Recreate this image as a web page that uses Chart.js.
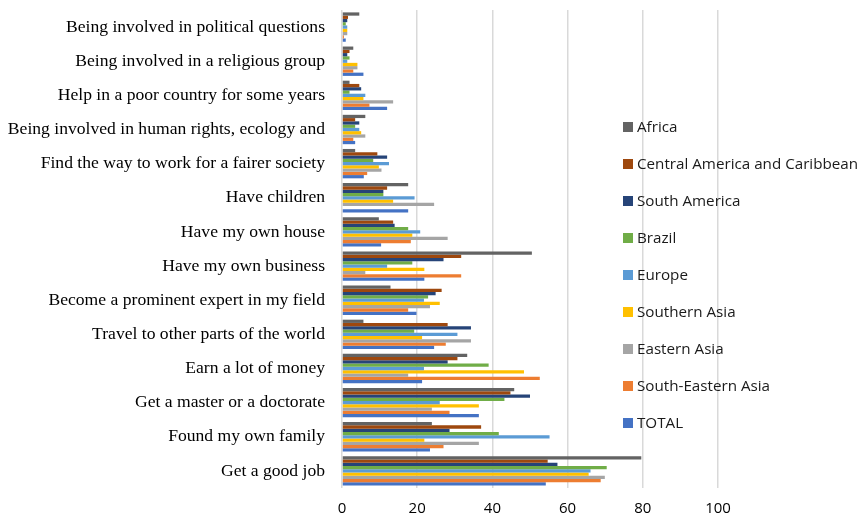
<!DOCTYPE html>
<html>
<head>
<meta charset="utf-8">
<script src="https://cdn.jsdelivr.net/npm/chart.js@4"></script>
<style>
  html, body { margin: 0; padding: 0; background: #ffffff; }
  #wrap { width: 861px; height: 517px; position: relative; }
</style>
</head>
<body>
<div id="wrap"><canvas id="chart" width="861" height="517"></canvas></div>
<script>
// Aspirations, share of respondents (%) by region
const categories = [
  "Being involved in political questions",
  "Being involved in a religious group",
  "Help in a poor country for some years",
  "Being involved in human rights, ecology and",
  "Find the way to work for a fairer society",
  "Have children",
  "Have my own house",
  "Have my own business",
  "Become a prominent expert in my field",
  "Travel to other parts of the world",
  "Earn a lot of money",
  "Get a master or a doctorate",
  "Found my own family",
  "Get a good job"
];

const africa           = [4.6, 3.0, 2.0, 6.2, 3.5, 17.6, 9.8, 50.5, 12.9, 5.7, 33.3, 45.8, 23.9, 79.6];
const centralAmerica   = [1.6, 2.0, 4.6, 3.5, 9.4, 12.0, 13.6, 31.7, 26.5, 28.1, 30.7, 44.8, 37.0, 54.7];
const southAmerica     = [1.4, 1.4, 5.1, 4.6, 12.0, 11.0, 14.0, 27.0, 24.9, 34.3, 28.1, 50.0, 28.6, 57.3];
const brazil           = [1.0, 2.0, 2.0, 3.5, 8.3, 11.0, 17.6, 18.7, 22.9, 19.2, 39.0, 43.2, 41.7, 70.4];
const europe           = [1.4, 1.4, 6.2, 4.6, 12.5, 19.3, 20.8, 12.0, 21.8, 30.7, 21.8, 26.0, 55.2, 66.1];
const southernAsia     = [1.4, 4.1, 5.7, 5.1, 9.8, 13.6, 18.7, 21.9, 26.0, 21.3, 48.4, 36.4, 21.9, 65.6];
const easternAsia      = [1.4, 4.1, 13.6, 6.2, 10.5, 24.5, 28.1, 6.2, 23.4, 34.3, 17.6, 23.9, 36.4, 69.9];
const southEasternAsia = [0.5, 3.0, 7.3, 3.0, 6.7, 0, 18.3, 31.7, 17.6, 27.6, 52.6, 28.6, 27.0, 68.8];
const total            = [1.0, 5.7, 12.0, 3.5, 5.8, 17.6, 10.4, 21.9, 19.8, 24.5, 21.3, 36.4, 23.4, 54.2];

const seriesNames = ["Africa", "Central America and Caribbean", "South America", "Brazil",
  "Europe", "Southern Asia", "Eastern Asia", "South-Eastern Asia", "TOTAL"];
const seriesValues = [africa, centralAmerica, southAmerica, brazil, europe,
  southernAsia, easternAsia, southEasternAsia, total];
const seriesColors = ["#636363", "#9E480E", "#264478", "#70AD47", "#5B9BD5",
  "#FFC000", "#A5A5A5", "#ED7D31", "#4472C4"];

const xTicks = [0, 20, 40, 60, 80, 100];

// Legend drawn over the right part of the plot, one entry per row
const overlayLegend = {
  id: "overlayLegend",
  afterDraw(chart, args, opts) {
    const ctx = chart.ctx;
    ctx.save();
    ctx.font = opts.font;
    ctx.textBaseline = "middle";
    ctx.textAlign = "left";
    chart.data.datasets.forEach((ds, i) => {
      const y = opts.top + i * opts.step;
      ctx.fillStyle = ds.backgroundColor;
      ctx.fillRect(opts.left, y - opts.box / 2, opts.box, opts.box);
      ctx.fillStyle = "#1a1a1a";
      ctx.fillText(ds.label, opts.left + opts.box + 4, y + 1);
    });
    ctx.restore();
  }
};

new Chart(document.getElementById("chart"), {
  type: "bar",
  data: {
    labels: categories,
    datasets: seriesNames.map((name, i) => ({
      label: name,
      data: seriesValues[i],
      backgroundColor: seriesColors[i],
      borderWidth: 0,
      categoryPercentage: 0.86,
      barPercentage: 1.0
    }))
  },
  options: {
    indexAxis: "y",
    responsive: false,
    animation: false,
    layout: { padding: { left: 0, right: 143, top: 10, bottom: 0 } },
    plugins: {
      legend: { display: false },
      tooltip: { enabled: false },
      overlayLegend: { left: 623, top: 127, step: 37, box: 10, font: "15.2px 'Open Sans'" }
    },
    scales: {
      x: {
        min: 0,
        max: 100,
        afterBuildTicks(scale) { scale.ticks = xTicks.map(v => ({ value: v })); },
        afterFit(scale) { scale.height = 29; scale.paddingLeft = 0; scale.paddingRight = 0; },
        grid: { color: "#d9d9d9", lineWidth: 1.5, drawTicks: false },
        border: { display: false },
        ticks: { color: "#000000", font: { family: "'Open Sans'", size: 15 }, padding: 12 }
      },
      y: {
        afterFit(scale) { scale.width = 342; scale.paddingTop = 0; scale.paddingBottom = 0; },
        grid: { display: false },
        border: { display: false },
        ticks: { color: "#000000", font: { family: "'Liberation Serif'", size: 17.6 }, padding: 9, autoSkip: false }
      }
    }
  },
  plugins: [overlayLegend]
});
</script>
</body>
</html>
